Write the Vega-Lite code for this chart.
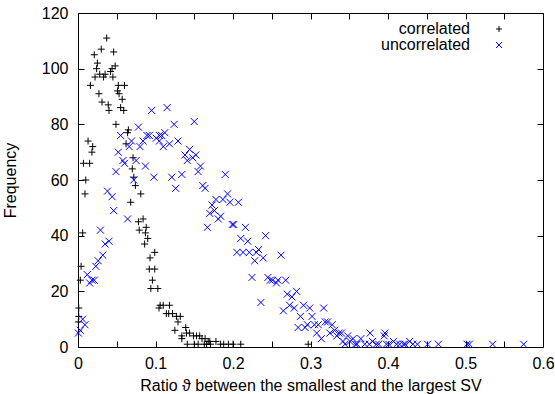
{
  "$schema": "https://vega.github.io/schema/vega-lite/v6.json",
  "width": 465,
  "height": 334,
  "autosize": {"type": "none"},
  "padding": {"left": 78, "top": 13, "right": 12, "bottom": 47},
  "background": "white",
  "config": {
    "view": {"stroke": "black", "strokeWidth": 1},
    "font": "Liberation Sans",
    "axis": {"grid": false, "domain": false, "tickColor": "black", "labelColor": "black", "titleColor": "black", "labelFont": "Liberation Sans", "titleFont": "Liberation Sans", "labelFontSize": 16, "titleFontSize": 16, "titleFontWeight": "normal", "tickSize": -6, "tickWidth": 1}
  },
  "data": {"values": [
    {"series":"correlated","x":0.037,"y":111},{"series":"correlated","x":0.030,"y":107},{"series":"correlated","x":0.021,"y":105},{"series":"correlated","x":0.046,"y":106},
    {"series":"correlated","x":0.025,"y":102},{"series":"correlated","x":0.048,"y":101},{"series":"correlated","x":0.024,"y":100},{"series":"correlated","x":0.042,"y":99},
    {"series":"correlated","x":0.044,"y":100},{"series":"correlated","x":0.028,"y":98},{"series":"correlated","x":0.035,"y":98},{"series":"correlated","x":0.033,"y":97},
    {"series":"correlated","x":0.022,"y":97},{"series":"correlated","x":0.045,"y":97},{"series":"correlated","x":0.016,"y":94},{"series":"correlated","x":0.052,"y":94},
    {"series":"correlated","x":0.060,"y":94},{"series":"correlated","x":0.051,"y":92},{"series":"correlated","x":0.053,"y":91},{"series":"correlated","x":0.027,"y":91},
    {"series":"correlated","x":0.057,"y":89},{"series":"correlated","x":0.031,"y":88},{"series":"correlated","x":0.039,"y":87},{"series":"correlated","x":0.040,"y":85},
    {"series":"correlated","x":0.055,"y":86},{"series":"correlated","x":0.059,"y":85},{"series":"correlated","x":0.049,"y":80},{"series":"correlated","x":0.065,"y":78},
    {"series":"correlated","x":0.064,"y":77},{"series":"correlated","x":0.013,"y":74},{"series":"correlated","x":0.019,"y":72},{"series":"correlated","x":0.018,"y":70},
    {"series":"correlated","x":0.062,"y":73},{"series":"correlated","x":0.071,"y":68},{"series":"correlated","x":0.007,"y":66},{"series":"correlated","x":0.015,"y":66},
    {"series":"correlated","x":0.070,"y":64},{"series":"correlated","x":0.072,"y":61},{"series":"correlated","x":0.010,"y":60},{"series":"correlated","x":0.074,"y":58},
    {"series":"correlated","x":0.009,"y":55},{"series":"correlated","x":0.081,"y":55},{"series":"correlated","x":0.068,"y":52},{"series":"correlated","x":0.084,"y":46},
    {"series":"correlated","x":0.078,"y":45},{"series":"correlated","x":0.088,"y":43},{"series":"correlated","x":0.079,"y":42},{"series":"correlated","x":0.087,"y":41},
    {"series":"correlated","x":0.006,"y":41},{"series":"correlated","x":0.090,"y":39},{"series":"correlated","x":0.086,"y":37},{"series":"correlated","x":0.099,"y":34},
    {"series":"correlated","x":0.093,"y":32},{"series":"correlated","x":0.004,"y":29},{"series":"correlated","x":0.092,"y":28},{"series":"correlated","x":0.099,"y":28},
    {"series":"correlated","x":0.003,"y":24},{"series":"correlated","x":0.096,"y":24},{"series":"correlated","x":0.094,"y":21},{"series":"correlated","x":0.103,"y":21},
    {"series":"correlated","x":0.1045,"y":14},{"series":"correlated","x":0.106,"y":15},{"series":"correlated","x":0.110,"y":15},{"series":"correlated","x":0.118,"y":15},
    {"series":"correlated","x":0.114,"y":12},{"series":"correlated","x":0.117,"y":12},{"series":"correlated","x":0.122,"y":12},{"series":"correlated","x":0.127,"y":11},
    {"series":"correlated","x":0.132,"y":11},{"series":"correlated","x":0.129,"y":9},{"series":"correlated","x":0.139,"y":7},{"series":"correlated","x":0.125,"y":6},
    {"series":"correlated","x":0.140,"y":5},{"series":"correlated","x":0.144,"y":5},{"series":"correlated","x":0.149,"y":4},{"series":"correlated","x":0.153,"y":4},
    {"series":"correlated","x":0.157,"y":4},{"series":"correlated","x":0.134,"y":4},{"series":"correlated","x":0.134,"y":3},{"series":"correlated","x":0.160,"y":3},
    {"series":"correlated","x":0.164,"y":3},{"series":"correlated","x":0.168,"y":2},{"series":"correlated","x":0.170,"y":2},{"series":"correlated","x":0.178,"y":2},
    {"series":"correlated","x":0.141,"y":1},{"series":"correlated","x":0.150,"y":1},{"series":"correlated","x":0.155,"y":1},{"series":"correlated","x":0.163,"y":1},
    {"series":"correlated","x":0.166,"y":1},{"series":"correlated","x":0.171,"y":1},{"series":"correlated","x":0.184,"y":1},{"series":"correlated","x":0.188,"y":1},
    {"series":"correlated","x":0.194,"y":1},{"series":"correlated","x":0.200,"y":1},{"series":"correlated","x":0.210,"y":1},{"series":"correlated","x":0.297,"y":1},
    {"series":"correlated","x":0.001,"y":14},{"series":"correlated","x":0.001,"y":11},{"series":"correlated","x":0.0005,"y":9},
    {"series":"uncorrelated","x":0.095,"y":85},{"series":"uncorrelated","x":0.115,"y":86},{"series":"uncorrelated","x":0.150,"y":81},{"series":"uncorrelated","x":0.124,"y":80},
    {"series":"uncorrelated","x":0.078,"y":79},{"series":"uncorrelated","x":0.055,"y":76},{"series":"uncorrelated","x":0.089,"y":76},{"series":"uncorrelated","x":0.092,"y":76},
    {"series":"uncorrelated","x":0.101,"y":75},{"series":"uncorrelated","x":0.105,"y":76},{"series":"uncorrelated","x":0.108,"y":76},{"series":"uncorrelated","x":0.112,"y":77},
    {"series":"uncorrelated","x":0.105,"y":74},{"series":"uncorrelated","x":0.069,"y":74},{"series":"uncorrelated","x":0.084,"y":74},{"series":"uncorrelated","x":0.066,"y":72},
    {"series":"uncorrelated","x":0.080,"y":72},{"series":"uncorrelated","x":0.110,"y":72},{"series":"uncorrelated","x":0.118,"y":73},{"series":"uncorrelated","x":0.129,"y":74},
    {"series":"uncorrelated","x":0.144,"y":71},{"series":"uncorrelated","x":0.052,"y":70},{"series":"uncorrelated","x":0.138,"y":69},{"series":"uncorrelated","x":0.152,"y":69},
    {"series":"uncorrelated","x":0.148,"y":68},{"series":"uncorrelated","x":0.141,"y":67},{"series":"uncorrelated","x":0.058,"y":67},{"series":"uncorrelated","x":0.060,"y":66},
    {"series":"uncorrelated","x":0.075,"y":67},{"series":"uncorrelated","x":0.087,"y":65},{"series":"uncorrelated","x":0.158,"y":65},{"series":"uncorrelated","x":0.155,"y":63},
    {"series":"uncorrelated","x":0.049,"y":63},{"series":"uncorrelated","x":0.098,"y":61},{"series":"uncorrelated","x":0.121,"y":61},{"series":"uncorrelated","x":0.134,"y":62},
    {"series":"uncorrelated","x":0.190,"y":62},{"series":"uncorrelated","x":0.072,"y":60},{"series":"uncorrelated","x":0.126,"y":57},{"series":"uncorrelated","x":0.161,"y":58},
    {"series":"uncorrelated","x":0.164,"y":57},{"series":"uncorrelated","x":0.193,"y":55},{"series":"uncorrelated","x":0.038,"y":56},{"series":"uncorrelated","x":0.044,"y":54},
    {"series":"uncorrelated","x":0.178,"y":53},{"series":"uncorrelated","x":0.187,"y":53},{"series":"uncorrelated","x":0.196,"y":52},{"series":"uncorrelated","x":0.207,"y":52},
    {"series":"uncorrelated","x":0.173,"y":51},{"series":"uncorrelated","x":0.046,"y":49},{"series":"uncorrelated","x":0.176,"y":49},{"series":"uncorrelated","x":0.170,"y":48},
    {"series":"uncorrelated","x":0.184,"y":47},{"series":"uncorrelated","x":0.181,"y":46},{"series":"uncorrelated","x":0.064,"y":46},{"series":"uncorrelated","x":0.167,"y":43},
    {"series":"uncorrelated","x":0.199,"y":44},{"series":"uncorrelated","x":0.201,"y":44},{"series":"uncorrelated","x":0.216,"y":43},{"series":"uncorrelated","x":0.029,"y":42},
    {"series":"uncorrelated","x":0.242,"y":40},{"series":"uncorrelated","x":0.210,"y":39},{"series":"uncorrelated","x":0.040,"y":38},{"series":"uncorrelated","x":0.219,"y":38},
    {"series":"uncorrelated","x":0.035,"y":37},{"series":"uncorrelated","x":0.205,"y":34},{"series":"uncorrelated","x":0.213,"y":34},{"series":"uncorrelated","x":0.221,"y":34},
    {"series":"uncorrelated","x":0.230,"y":34},{"series":"uncorrelated","x":0.233,"y":35},{"series":"uncorrelated","x":0.262,"y":33},{"series":"uncorrelated","x":0.032,"y":33},
    {"series":"uncorrelated","x":0.239,"y":32},{"series":"uncorrelated","x":0.228,"y":31},{"series":"uncorrelated","x":0.026,"y":31},{"series":"uncorrelated","x":0.023,"y":29},
    {"series":"uncorrelated","x":0.012,"y":26},{"series":"uncorrelated","x":0.2245,"y":25},{"series":"uncorrelated","x":0.245,"y":25},{"series":"uncorrelated","x":0.248,"y":24},
    {"series":"uncorrelated","x":0.251,"y":24},{"series":"uncorrelated","x":0.256,"y":23},{"series":"uncorrelated","x":0.258,"y":24},{"series":"uncorrelated","x":0.268,"y":24},
    {"series":"uncorrelated","x":0.018,"y":24},{"series":"uncorrelated","x":0.021,"y":24},{"series":"uncorrelated","x":0.015,"y":23},{"series":"uncorrelated","x":0.282,"y":20},
    {"series":"uncorrelated","x":0.270,"y":19},{"series":"uncorrelated","x":0.276,"y":18},{"series":"uncorrelated","x":0.236,"y":16},{"series":"uncorrelated","x":0.273,"y":15},
    {"series":"uncorrelated","x":0.291,"y":15},{"series":"uncorrelated","x":0.279,"y":14},{"series":"uncorrelated","x":0.299,"y":14},{"series":"uncorrelated","x":0.317,"y":14},
    {"series":"uncorrelated","x":0.265,"y":13},{"series":"uncorrelated","x":0.287,"y":11},{"series":"uncorrelated","x":0.302,"y":11},{"series":"uncorrelated","x":0.006,"y":10},
    {"series":"uncorrelated","x":0.319,"y":9},{"series":"uncorrelated","x":0.322,"y":9},{"series":"uncorrelated","x":0.328,"y":8},{"series":"uncorrelated","x":0.009,"y":8},
    {"series":"uncorrelated","x":0.296,"y":8},{"series":"uncorrelated","x":0.305,"y":8},{"series":"uncorrelated","x":0.310,"y":8},{"series":"uncorrelated","x":0.284,"y":7},
    {"series":"uncorrelated","x":0.293,"y":7},{"series":"uncorrelated","x":0.003,"y":6},{"series":"uncorrelated","x":0.325,"y":5},{"series":"uncorrelated","x":0.331,"y":6},
    {"series":"uncorrelated","x":0.308,"y":5},{"series":"uncorrelated","x":0.337,"y":5},{"series":"uncorrelated","x":0.340,"y":5},{"series":"uncorrelated","x":0.377,"y":5},
    {"series":"uncorrelated","x":0.0005,"y":5},{"series":"uncorrelated","x":0.334,"y":4},{"series":"uncorrelated","x":0.348,"y":4},{"series":"uncorrelated","x":0.396,"y":5},
    {"series":"uncorrelated","x":0.395,"y":4},{"series":"uncorrelated","x":0.314,"y":3},{"series":"uncorrelated","x":0.355,"y":3},{"series":"uncorrelated","x":0.365,"y":3},
    {"series":"uncorrelated","x":0.342,"y":2},{"series":"uncorrelated","x":0.380,"y":2},{"series":"uncorrelated","x":0.351,"y":2},{"series":"uncorrelated","x":0.360,"y":1},
    {"series":"uncorrelated","x":0.370,"y":1},{"series":"uncorrelated","x":0.385,"y":1},{"series":"uncorrelated","x":0.398,"y":1},{"series":"uncorrelated","x":0.407,"y":2},
    {"series":"uncorrelated","x":0.411,"y":1},{"series":"uncorrelated","x":0.415,"y":1},{"series":"uncorrelated","x":0.420,"y":1},{"series":"uncorrelated","x":0.428,"y":2},
    {"series":"uncorrelated","x":0.432,"y":1},{"series":"uncorrelated","x":0.451,"y":1},{"series":"uncorrelated","x":0.465,"y":1},{"series":"uncorrelated","x":0.502,"y":1},
    {"series":"uncorrelated","x":0.505,"y":1},{"series":"uncorrelated","x":0.535,"y":1},{"series":"uncorrelated","x":0.575,"y":1},{"series":"uncorrelated","x":0.3445,"y":1},
    {"series":"uncorrelated","x":0.358,"y":1},{"series":"uncorrelated","x":0.376,"y":1},{"series":"uncorrelated","x":0.388,"y":1},{"series":"uncorrelated","x":0.401,"y":1},
    {"series":"uncorrelated","x":0.422,"y":1},{"series":"uncorrelated","x":0.438,"y":1}
  ]},
  "layer": [
    {
      "mark": {"type": "point", "filled": false, "strokeWidth": 1, "size": 49, "opacity": 1},
      "encoding": {
        "x": {"field": "x", "type": "quantitative", "scale": {"domain": [0, 0.6], "nice": false, "zero": false},
              "axis": {"orient": "bottom", "title": "Ratio ϑ between the smallest and the largest SV", "values": [0,0.05,0.1,0.15,0.2,0.25,0.3,0.35,0.4,0.45,0.5,0.55,0.6],
                       "labelExpr": "round(datum.value*20) % 2 == 0 ? format(datum.value, '~g') : ''", "labelPadding": 14, "titlePadding": 6, "labelFlush": false}},
        "y": {"field": "y", "type": "quantitative", "scale": {"domain": [0, 120], "nice": false},
              "axis": {"orient": "left", "title": "Frequency", "values": [0,20,40,60,80,100,120], "labelPadding": 16, "titlePadding": 23}},
        "color": {"field": "series", "type": "nominal", "scale": {"domain": ["correlated", "uncorrelated"], "range": ["black", "#0000ff"]},
                  "legend": {"title": null, "orient": "none", "legendX": 413, "legendY": 8, "padding": 0, "labelAlign": "right", "labelOffset": -37, "labelFontSize": 16, "labelFont": "Liberation Sans", "labelColor": "black", "symbolSize": 36, "symbolStrokeWidth": 1, "rowPadding": -1}},
        "shape": {"field": "series", "type": "nominal", "scale": {"domain": ["correlated", "uncorrelated"], "range": ["M-1,0L1,0M0,-1L0,1", "M-1,-1L1,1M-1,1L1,-1"]}}
      }
    },
    {
      "mark": {"type": "point", "opacity": 0},
      "encoding": {
        "x": {"field": "x", "type": "quantitative", "axis": {"orient": "top", "title": null, "labels": false, "values": [0,0.05,0.1,0.15,0.2,0.25,0.3,0.35,0.4,0.45,0.5,0.55,0.6]}},
        "y": {"field": "y", "type": "quantitative", "axis": {"orient": "right", "title": null, "labels": false, "values": [0,20,40,60,80,100,120]}}
      }
    }
  ],
  "resolve": {"axis": {"x": "independent", "y": "independent"}}
}
